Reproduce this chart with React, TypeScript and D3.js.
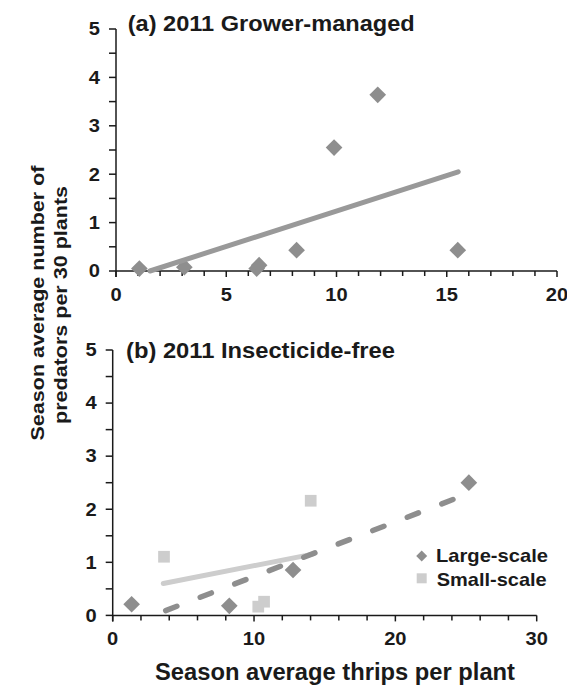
import React from 'react';
import * as d3 from 'd3';

// panel (a) 2011 grower-managed
const thripsA = [1.06, 3.1, 6.38, 6.49, 8.19, 9.89, 11.87, 15.5];
const predA = [0.05, 0.08, 0.05, 0.12, 0.43, 2.55, 3.64, 0.43];
const trendA: [number, number][] = [[1.54, 0], [15.52, 2.05]];

// panel (b) 2011 insecticide-free
const thripsLarge = [1.34, 8.25, 12.76, 25.2];
const predLarge = [0.21, 0.18, 0.855, 2.5];
const thripsSmall = [3.63, 10.3, 10.71, 14.01];
const predSmall = [1.105, 0.165, 0.258, 2.16];
const trendLarge: [number, number][] = [[3.75, 0.09], [24.58, 2.235]];
const trendSmall: [number, number][] = [[3.58, 0.6], [14.08, 1.15]];

const yTicks = [0, 1, 2, 3, 4, 5];
const xTicksA = [0, 5, 10, 15, 20];
const xTicksB = [0, 10, 20, 30];

const FONT = 'Liberation Sans, Arial, sans-serif';
const INK = '#1a1a1a';
const DARK = '#8e8e8e';
const LIGHT = '#cdcdcd';
const STRETCH = 1.15;

const xA = d3.scaleLinear().domain([0, 20]).range([116, 557]);
const yA = d3.scaleLinear().domain([0, 5]).range([271, 29]);
const xB = d3.scaleLinear().domain([0, 30]).range([112.7, 536.7]);
const yB = d3.scaleLinear().domain([0, 5]).range([615.4, 350]);

const diamond = d3.symbol(d3.symbolSquare, 139)();
const square = d3.symbol(d3.symbolSquare, 137)();

const Label = ({ x, y, anchor, size, text }: any) => (
  <text
    transform={`translate(${x},${y}) scale(${STRETCH},1)`}
    textAnchor={anchor}
    fontSize={size}
    fontWeight="bold"
    fontFamily={FONT}
    fill={INK}
  >
    {text}
  </text>
);

const Axes = ({ x, y, xMajor, xMinor }: any) => {
  const [x0, x1] = x.range();
  const [y0, y1] = y.range();
  return (
    <g stroke={INK} strokeWidth={1.5}>
      <line x1={x0} x2={x1} y1={y0} y2={y0} />
      <line x1={x0} x2={x0} y1={y0 + 6} y2={y1} />
      {x.ticks(x.domain()[1] / xMinor).map((t: number) => (
        <line key={'xm' + t} x1={x(t)} x2={x(t)} y1={y0} y2={y0 + (t % xMajor === 0 ? 6 : 5)} />
      ))}
      {y.ticks(10).map((t: number) => (
        <line key={'ym' + t} x1={x0 - 7} x2={x0} y1={y(t)} y2={y(t)} />
      ))}
      <g stroke="none">
        {yTicks.map((t) => (
          <Label key={'yl' + t} x={x0 - 16} y={y(t) + 6.3} anchor="end" size={17.5} text={String(t)} />
        ))}
      </g>
    </g>
  );
};

const line = d3.line<[number, number]>();

export default function App() {
  return (
    <svg width={567} height={685} style={{ position: 'absolute', left: 0, top: 0, background: '#fff' }}>
      {/* y title */}
      <g fontFamily={FONT} fontWeight="bold" fontSize={19} fill={INK} textAnchor="middle">
        <text transform="translate(44,303) rotate(-90)" textLength={275} lengthAdjust="spacingAndGlyphs">
          Season average number of
        </text>
        <text transform="translate(67,305) rotate(-90)" textLength={238} lengthAdjust="spacingAndGlyphs">
          predators per 30 plants
        </text>
      </g>

      {/* panel a */}
      <Axes x={xA} y={yA} xMajor={5} xMinor={1} />
      {xTicksA.map((t) => (
        <Label key={'xa' + t} x={xA(t)} y={yA(0) + 30} anchor="middle" size={17.5} text={String(t)} />
      ))}
      <text x={127.7} y={31} fontFamily={FONT} fontWeight="bold" fontSize={22.5} fill={INK}
        textLength={287} lengthAdjust="spacingAndGlyphs">(a) 2011 Grower-managed</text>
      {thripsA.map((t, i) => (
        <path key={'a' + i} d={diamond} fill={DARK}
          transform={`translate(${xA(t)},${yA(predA[i])}) rotate(45)`} />
      ))}
      <path d={line.x((d) => xA(d[0])).y((d) => yA(d[1]))(trendA)!} stroke="#999" strokeWidth={5}
        fill="none" strokeLinecap="round" />

      {/* panel b */}
      <Axes x={xB} y={yB} xMajor={10} xMinor={2} />
      {xTicksB.map((t) => (
        <Label key={'xb' + t} x={xB(t)} y={yB(0) + 30} anchor="middle" size={17.5} text={String(t)} />
      ))}
      <text x={126} y={358} fontFamily={FONT} fontWeight="bold" fontSize={22.5} fill={INK}
        textLength={269} lengthAdjust="spacingAndGlyphs">(b) 2011 Insecticide-free</text>
      {thripsLarge.map((t, i) => (
        <path key={'l' + i} d={diamond} fill={DARK}
          transform={`translate(${xB(t)},${yB(predLarge[i])}) rotate(45)`} />
      ))}
      {thripsSmall.map((t, i) => (
        <path key={'s' + i} d={square} fill={LIGHT}
          transform={`translate(${xB(t)},${yB(predSmall[i])})`} />
      ))}
      <path d={line.x((d) => xB(d[0])).y((d) => yB(d[1]))(trendSmall)!} stroke={LIGHT} strokeWidth={5}
        fill="none" strokeLinecap="round" />
      <path d={line.x((d) => xB(d[0])).y((d) => yB(d[1]))(trendLarge)!} stroke={DARK} strokeWidth={5.5}
        fill="none" strokeLinecap="round" strokeDasharray="12 25" />

      {/* legend */}
      <path d={d3.symbol(d3.symbolSquare, 61)()!} fill={DARK} transform="translate(421.7,556) rotate(45)" />
      <path d={d3.symbol(d3.symbolSquare, 100)()!} fill={LIGHT} transform="translate(421.7,578.3)" />
      <g fontFamily={FONT} fontWeight="bold" fontSize={19} fill={INK}>
        <text x={436} y={562} textLength={112} lengthAdjust="spacingAndGlyphs">Large-scale</text>
        <text x={436.7} y={585.5} textLength={110} lengthAdjust="spacingAndGlyphs">Small-scale</text>
      </g>

      {/* x title */}
      <text x={155} y={680} fontFamily={FONT} fontWeight="bold" fontSize={23} fill={INK}
        textLength={360} lengthAdjust="spacingAndGlyphs">Season average thrips per plant</text>
    </svg>
  );
}
